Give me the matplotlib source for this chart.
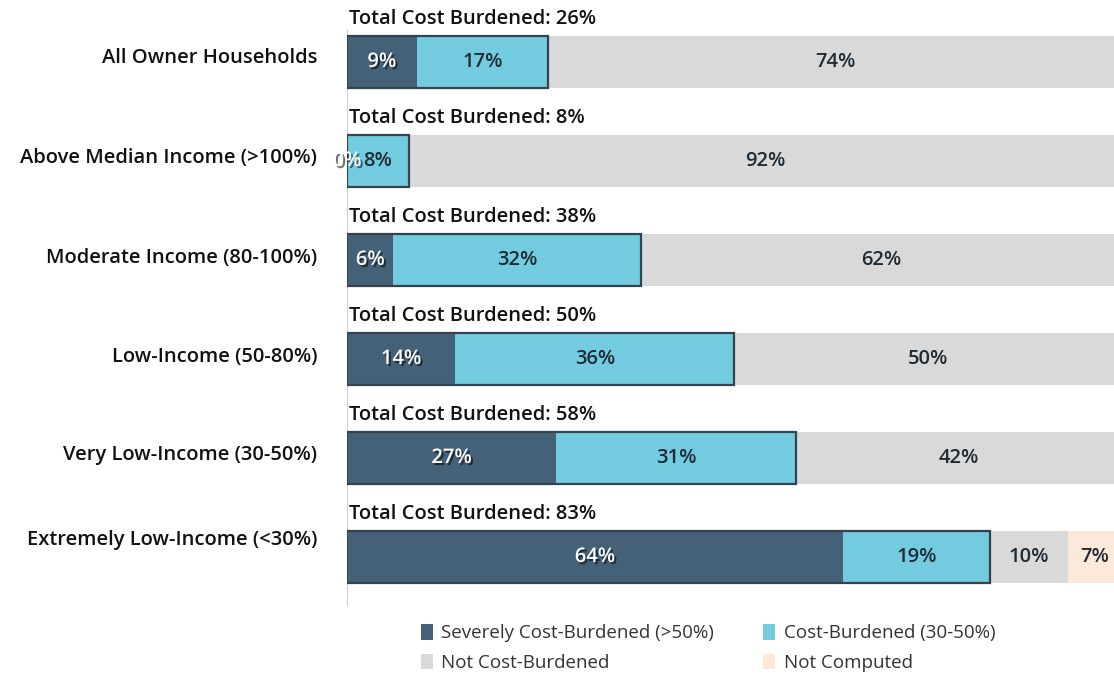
import matplotlib.pyplot as plt
import matplotlib.patheffects as pe
from matplotlib.patches import Patch
from matplotlib.transforms import blended_transform_factory
import numpy as np

# Owner households by income band, share in each cost-burden class (%)
categories = [
    "All Owner Households",
    "Above Median Income (>100%)",
    "Moderate Income (80-100%)",
    "Low-Income (50-80%)",
    "Very Low-Income (30-50%)",
    "Extremely Low-Income (<30%)",
]
severe = [9, 0, 6, 14, 27, 64]
burdened = [17, 8, 32, 36, 31, 19]
not_burdened = [74, 92, 62, 50, 42, 10]
not_computed = [0, 0, 0, 0, 0, 7]

series_names = [
    "Severely Cost-Burdened (>50%)",
    "Cost-Burdened (30-50%)",
    "Not Cost-Burdened",
    "Not Computed",
]
c_severe = "#446177"
c_burd = "#73cbe0"
c_not = "#d9d9d9"
c_nc = "#fce9da"
edge = "#34434f"

plt.rcParams["font.family"] = ["Open Sans", "DejaVu Sans"]

fig = plt.figure(figsize=(11.14, 6.75), dpi=100)
ax = fig.add_axes([347 / 1114, 1 - 605 / 675, 1 - 347 / 1114, 605 / 675])

y = np.arange(len(categories))
h = 0.52
sev = np.array(severe)
bur = np.array(burdened)
nob = np.array(not_burdened)
noc = np.array(not_computed)

ax.barh(y, nob, left=sev + bur, height=h, color=c_not, zorder=1)
ax.barh(y, noc, left=sev + bur + nob, height=h, color=c_nc, zorder=1)
ax.barh(y, sev, height=h, color=c_severe, zorder=2)
ax.barh(y, bur, left=sev, height=h, color=c_burd, zorder=2)
# outline around the whole cost-burdened portion
ax.barh(y, sev + bur, height=h, facecolor="none", edgecolor=edge, linewidth=1.6, zorder=3)

shadow = [pe.SimplePatchShadow(offset=(1.5, -1.5), shadow_rgbFace="k", alpha=0.55), pe.Normal()]
lab_kw = dict(ha="center", va="center", fontsize=14.5, fontweight="semibold", zorder=5)

for i in range(len(categories)):
    s, b, n, c = sev[i], bur[i], nob[i], noc[i]
    ax.text(s / 2, i, f"{s}%", color="white", path_effects=shadow, **lab_kw)
    ax.text(s + b / 2, i, f"{b}%", color="#1f2a33", **lab_kw)
    ax.text(s + b + n / 2, i, f"{n}%", color="#1f2a33", **lab_kw)
    if c:
        ax.text(s + b + n + c / 2, i, f"{c}%", color="#1f2a33", **lab_kw)
    ax.text(0.25, i - 0.43, f"Total Cost Burdened: {s + b}%", ha="left", va="center",
            fontsize=14.5, fontweight="semibold", color="#111111")

# category labels to the left of the axis; the last one sits a little higher
trans = blended_transform_factory(fig.transFigure, ax.transData)
label_y = y - np.array([0.04, 0.03, 0.02, 0.02, 0.03, 0.17])
for i, name in enumerate(categories):
    ax.text(317 / 1114, label_y[i], name, transform=trans, ha="right", va="center",
            fontsize=14.5, fontweight="semibold", color="#111111")

ax.set_xlim(0, 99)
ax.set_ylim(5.485, -0.626)
ax.set_yticks([])
ax.set_xticks([])
for side in ["top", "right", "bottom"]:
    ax.spines[side].set_visible(False)
ax.spines["left"].set_color("#d0d0d0")
ax.spines["left"].set_bounds(5.485, -0.32)
ax.patch.set_alpha(0)

handles = [
    Patch(facecolor=c_severe, label=series_names[0]),
    Patch(facecolor=c_not, label=series_names[2]),
    Patch(facecolor=c_burd, label=series_names[1]),
    Patch(facecolor=c_nc, label=series_names[3]),
]
fig.legend(handles=handles, ncol=2, loc="center", bbox_to_anchor=(708 / 1114, 1 - 648 / 675),
           frameon=False, fontsize=13.5, handlelength=0.65, handleheight=0.9, handletextpad=0.45,
           columnspacing=2.6, labelspacing=0.6, labelcolor="#333333")

fig.savefig("out.png", dpi=100)
